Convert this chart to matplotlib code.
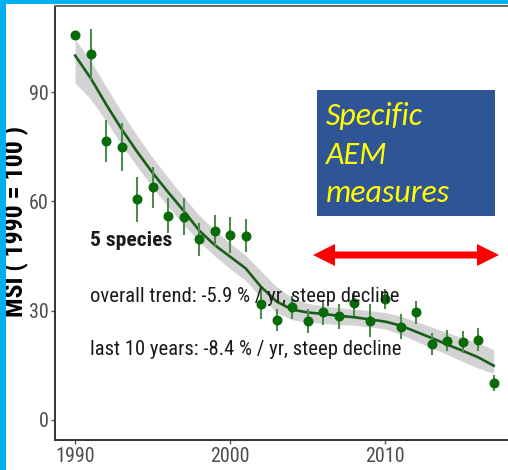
import matplotlib
matplotlib.use("Agg")
import matplotlib.pyplot as plt
from matplotlib.patches import Polygon, Rectangle
from matplotlib import font_manager

years = list(range(1990, 2018))
msi = [105.6, 100.4, 76.6, 74.9, 60.6, 63.8, 56.0, 55.8, 49.6, 51.9, 50.7, 50.6, 31.8, 27.4,
       30.9, 27.2, 29.5, 28.4, 32.0, 27.3, 33.2, 25.6, 29.5, 20.9, 21.8, 21.3, 22.0, 10.2]
err = [1.0, 7.0, 5.8, 6.6, 6.2, 5.6, 4.8, 5.0, 4.5, 4.4, 5.0, 4.6, 4.2, 3.0,
       3.2, 3.3, 3.4, 3.4, 3.4, 4.6, 2.8, 3.5, 3.2, 3.0, 3.0, 3.0, 3.2, 2.2]
trend = [100.0, 93.8, 86.6, 79.8, 73.6, 67.8, 62.5, 57.4, 52.0, 48.0, 44.8, 41.6, 36.5, 32.5,
         30.3, 29.5, 29.1, 28.6, 28.2, 27.6, 27.0, 25.9, 24.2, 22.5, 20.7, 19.0, 17.2, 14.9]
upper = [104.5, 98.5, 91.5, 84.5, 78.0, 72.0, 66.5, 61.2, 56.2, 52.0, 48.5, 45.2, 40.8, 36.5,
         33.5, 32.0, 31.3, 30.8, 30.4, 30.0, 29.5, 28.5, 27.0, 25.5, 24.0, 22.5, 21.2, 19.3]
lower = [92.5, 88.0, 82.0, 75.5, 69.5, 63.8, 58.5, 53.6, 49.0, 45.0, 41.5, 38.3, 33.5, 29.5,
         27.5, 26.8, 26.5, 26.2, 26.0, 25.5, 25.0, 23.5, 21.6, 19.8, 18.0, 16.0, 14.2, 12.8]
xticks = [1990, 2000, 2010]
yticks = [0, 30, 60, 90]

avail = {f.name for f in font_manager.fontManager.ttflist}
narrow_font = "Liberation Sans"
for cand in ["Roboto Condensed", "Archivo Narrow", "PT Sans Narrow", "Arimo Narrow",
             "Sofia Sans Condensed", "Liberation Sans"]:
    if cand in avail:
        narrow_font = cand
        break
box_font = "Lato"
for cand in ["Carlito", "Lato"]:
    if cand in avail:
        box_font = cand
        break
narrow = [narrow_font, "DejaVu Sans"]

W, H = 508, 470
fig = plt.figure(figsize=(W / 100, H / 100), dpi=100)
fig.patch.set_facecolor("white")
renderer = fig.canvas.get_renderer()


def fit_width(t, target, vertical=False):
    bb = t.get_window_extent(renderer)
    size = bb.height if vertical else bb.width
    t.set_fontsize(t.get_fontsize() * target / size)


def fy(y):
    return (H - y) / H


probe = fig.text(0, 0, "1990", family=narrow, fontsize=14)
fit_width(probe, 39.5)
tick_fs = probe.get_fontsize()
probe.remove()

ax = fig.add_axes([55 / W, 30 / H, 1.0 - 55 / W + 0.01, (440 - 6) / H])
ax.set_xlim(1988.70, 2018.25)
ax.set_ylim(-5.49, 113.6)

ax.fill_between(years, lower, upper, color="#cfcfcf", alpha=0.9, lw=0, zorder=1)
ax.plot(years, trend, color="#1b5e1b", lw=1.9, zorder=2)
ax.errorbar(years, msi, yerr=err, fmt="none", ecolor="#4c8c4c", elinewidth=1.5, zorder=3)
ax.plot(years, msi, "o", color="#0a6a0a", ms=6.2, mec="#0a6a0a", zorder=4)

ax.set_xticks(xticks)
ax.set_yticks(yticks)
ax.set_xticklabels([str(v) for v in xticks], family=narrow, fontsize=tick_fs, color="#4d4d4d")
ax.set_yticklabels([str(v) for v in yticks], family=narrow, fontsize=tick_fs, color="#4d4d4d")
ax.tick_params(axis="both", length=3, width=1, color="#555555")
ax.tick_params(axis="x", pad=2)
ax.tick_params(axis="y", pad=1.5)
for s in ["left", "bottom", "top"]:
    ax.spines[s].set_color("#333333")
    ax.spines[s].set_linewidth(1.4)
ax.spines["top"].set_color("#666666")
ax.spines["right"].set_visible(False)

ylab = ax.set_ylabel("MSI ( 1990 = 100 )", fontsize=17, fontweight="bold",
                     family=narrow, color="black")
fit_width(ylab, 192, vertical=True)
ax.yaxis.set_label_coords((29.5 - 55) / (W * ax.get_position().width), (470 - 221 - 30) / 434)

t1 = fig.text(90 / W, fy(246.5), "5 species", family=narrow, fontsize=15, fontweight="bold",
              color="#1a1a1a", va="baseline", ha="left")
t2 = fig.text(90 / W, fy(302.3), "overall trend: -5.9 % / yr, steep decline", family=narrow,
              fontsize=15, color="#1a1a1a", va="baseline", ha="left")
t3 = fig.text(90 / W, fy(355), "last 10 years: -8.4 % / yr, steep decline", family=narrow,
              fontsize=15, color="#1a1a1a", va="baseline", ha="left")
fit_width(t2, 310)
t3.set_fontsize(t2.get_fontsize())
fit_width(t1, 82)

fig.patches.append(Rectangle((317 / W, fy(216)), (495 - 317) / W, (216 - 90) / H,
                             transform=fig.transFigure, facecolor="#2f5597", edgecolor="none",
                             zorder=5))
box_texts = []
for txt, yb in [("Specific", 125), ("AEM", 163.5), ("measures", 202)]:
    box_texts.append(fig.text(326 / W, fy(yb), txt, family=[box_font, "DejaVu Sans"],
                              style="italic", fontsize=21.5, color="#ffff00",
                              va="baseline", ha="left", zorder=6))
fit_width(box_texts[2], 124)
for bt in box_texts[:2]:
    bt.set_fontsize(box_texts[2].get_fontsize())

pts = [(313, 255), (335, 244), (335, 251.5), (477, 251.5), (477, 244), (499, 255),
       (477, 266), (477, 258.5), (335, 258.5), (335, 266)]
fig.patches.append(Polygon([(x / W, fy(y)) for x, y in pts], closed=True,
                           transform=fig.transFigure, facecolor="#ff0000",
                           edgecolor="none", zorder=5))

fig.patches.append(Rectangle((0, 0), 6 / W, 1, transform=fig.transFigure,
                             facecolor="#00b0f0", edgecolor="none", zorder=7))
fig.patches.append(Rectangle((0, 1 - 4 / H), 1, 4 / H, transform=fig.transFigure,
                             facecolor="#00b0f0", edgecolor="none", zorder=7))

fig.savefig("out.png", dpi=100)
